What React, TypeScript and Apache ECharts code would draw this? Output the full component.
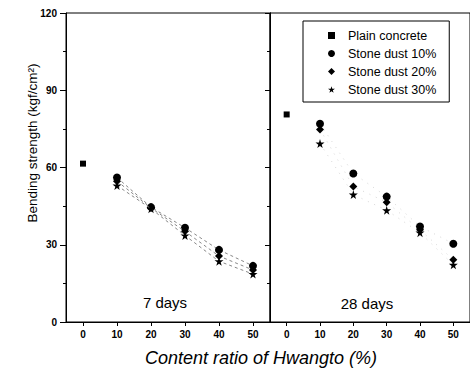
import React, { useEffect, useRef } from "react";
import * as echarts from "echarts";

const xTicks = [0, 10, 20, 30, 40, 50];
const dustX = [10, 20, 30, 40, 50];

const plain7 = [61.5];
const dust10_7 = [56.1, 44.6, 36.6, 28.0, 21.8];
const dust20_7 = [54.7, 44.3, 35.2, 25.6, 20.2];
const dust30_7 = [53.0, 44.0, 33.6, 23.6, 18.6];

const plain28 = [80.6];
const dust10_28 = [77.0, 57.7, 48.7, 37.1, 30.4];
const dust20_28 = [74.8, 52.6, 46.5, 35.8, 24.2];
const dust30_28 = [69.3, 49.5, 43.4, 34.7, 22.2];

const seriesNames = ["Plain concrete", "Stone dust 10%", "Stone dust 20%", "Stone dust 30%"];
const panelLabels = ["7 days", "28 days"];
const yTitle = "Bending strength (kgf/cm²)";
const xTitle = "Content ratio of Hwangto (%)";

const STAR = "path://M50,0 L61,35 L98,35 L68,57 L79,91 L50,70 L21,91 L32,57 L2,35 L39,35 Z";
const symbols = ["rect", "circle", "diamond", STAR];
const symSizes = [6, 8, 8, 9];
const FONT = '"Liberation Sans", Arial, sans-serif';

const pair = (xs: number[], ys: number[]) => xs.map((x, i) => [x, ys[i]]);

export default function App() {
  const ref = useRef<HTMLDivElement>(null);
  useEffect(() => {
    if (!ref.current) return;
    const chart = echarts.init(ref.current, null, { renderer: "svg" });

    const xAxisBase = (gridIndex: number) => ({
      type: "value",
      gridIndex,
      min: -5,
      max: 55,
      splitLine: { show: false },
      axisLine: { show: true, onZero: false, lineStyle: { color: "#000", width: 1 } },
      axisTick: { show: true, length: 4, customValues: xTicks, lineStyle: { color: "#000" } },
      axisLabel: {
        show: true,
        customValues: xTicks,
        color: "#000",
        fontSize: 10,
        fontWeight: "bold",
        fontFamily: FONT,
        margin: 7,
      },
    });

    const panelData = [
      [plain7, dust10_7, dust20_7, dust30_7],
      [plain28, dust10_28, dust20_28, dust30_28],
    ];

    const series: any[] = [];
    panelData.forEach((vals, p) => {
      vals.forEach((v, k) => {
        const data = k === 0 ? pair([0], v) : pair(dustX, v);
        series.push({
          name: seriesNames[k],
          type: "line",
          xAxisIndex: p,
          yAxisIndex: p === 0 ? 0 : 2,
          data,
          symbol: symbols[k],
          symbolSize: symSizes[k],
          itemStyle: { color: "#000" },
          lineStyle:
            k === 0
              ? { width: 0 }
              : p === 0
              ? { color: "#888", width: 1, type: [3, 3] }
              : { color: "#ccc", width: 0.8, type: [1, 6] },
          z: 3 + k,
        });
      });
    });

    const yBase = {
      type: "value",
      min: 0,
      max: 120,
      interval: 30,
      splitLine: { show: false },
    };

    chart.setOption({
      animation: false,
      grid: [
        { left: 66, top: 13, width: 204, height: 309, show: true, borderColor: "#000", borderWidth: 1 },
        { left: 270, top: 13, width: 204, height: 309, show: true, borderColor: "#000", borderWidth: 1 },
      ],
      xAxis: [xAxisBase(0), xAxisBase(1)],
      yAxis: [
        {
          ...yBase,
          gridIndex: 0,
          axisLine: { show: true, onZero: false, lineStyle: { color: "#000" } },
          axisTick: { show: true, length: 6, lineStyle: { color: "#000" } },
          minorTick: { show: true, splitNumber: 2, length: 3, lineStyle: { color: "#000" } },
          axisLabel: { color: "#000", fontSize: 10, fontWeight: "bold", fontFamily: FONT, margin: 9 },
        },
        {
          ...yBase,
          gridIndex: 0,
          position: "right",
          axisLine: { show: true, onZero: false, lineStyle: { color: "#000" } },
          axisTick: { show: true, inside: true, length: 5, lineStyle: { color: "#000" } },
          minorTick: { show: true, splitNumber: 2, length: 3, lineStyle: { color: "#000" } },
          axisLabel: { show: false },
        },
        {
          ...yBase,
          gridIndex: 1,
          axisLine: { show: true, onZero: false, lineStyle: { color: "#000" } },
          axisTick: { show: false },
          axisLabel: { show: false },
        },
      ],
      legend: {
        orient: "vertical",
        left: 303,
        top: 21,
        borderColor: "#000",
        borderWidth: 1,
        padding: [8, 13, 6, 25],
        itemWidth: 7,
        itemHeight: 7,
        itemGap: 5,
        selectedMode: false,
        data: seriesNames.map((n, k) => ({ name: n, icon: symbols[k] })),
        itemStyle: { color: "#000" },
        textStyle: {
          color: "#000",
          fontSize: 12.5,
          fontFamily: FONT,
          lineHeight: 12.5,
          padding: [0, 0, 0, 8],
        },
      },
      graphic: [
        {
          type: "text",
          x: 32,
          y: 143,
          rotation: Math.PI / 2,
          style: {
            text: yTitle,
            fontSize: 13.5,
            fontFamily: FONT,
            fill: "#000",
            align: "center",
            verticalAlign: "middle",
          },
        },
        {
          type: "text",
          x: 261,
          y: 358,
          style: {
            text: xTitle,
            fontSize: 18,
            fontStyle: "italic",
            fontFamily: FONT,
            fill: "#000",
            align: "center",
            verticalAlign: "middle",
          },
        },
        {
          type: "text",
          x: 165,
          y: 302,
          style: {
            text: panelLabels[0],
            fontSize: 15,
            fontFamily: FONT,
            fill: "#000",
            align: "center",
            verticalAlign: "middle",
          },
        },
        {
          type: "text",
          x: 367,
          y: 303,
          style: {
            text: panelLabels[1],
            fontSize: 15,
            fontFamily: FONT,
            fill: "#000",
            align: "center",
            verticalAlign: "middle",
          },
        },
      ],
      series,
    });
    return () => chart.dispose();
  }, []);
  return (
    <div
      ref={ref}
      style={{ position: "fixed", left: 0, top: 0, width: 470, height: 376, background: "#fff" }}
    />
  );
}
